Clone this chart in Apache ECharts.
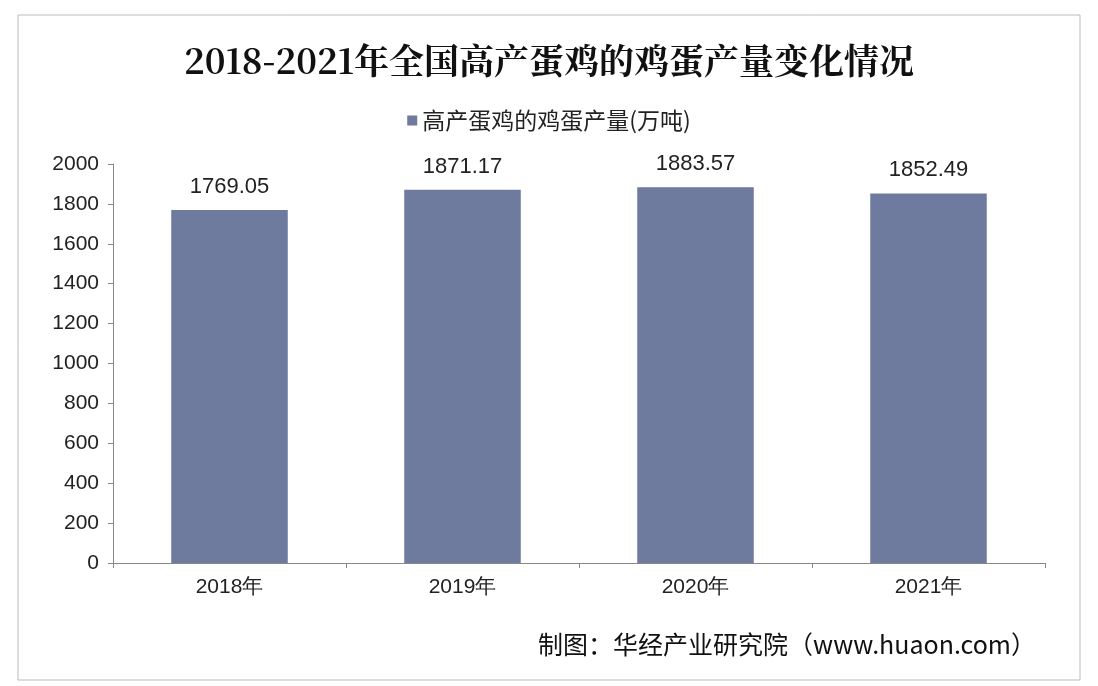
<!DOCTYPE html>
<html><head><meta charset="utf-8">
<script src="https://cdn.jsdelivr.net/npm/echarts@6/dist/echarts.min.js"></script>
<style>html,body{margin:0;background:#fff}#c{width:1098px;height:686px}</style>
</head><body><div id="c"></div>
<script>
const years = ['2018年', '2019年', '2020年', '2021年'];
const output = [1769.05, 1871.17, 1883.57, 1852.49];
const seriesName = '高产蛋鸡的鸡蛋产量(万吨)';

const chart = echarts.init(document.getElementById('c'));
chart.setOption({
  backgroundColor: '#fff',
  title: {
    text: '2018-2021年全国高产蛋鸡的鸡蛋产量变化情况',
    left: 'center', top: 38,
    textStyle: { fontFamily: 'Noto Serif CJK SC, serif', fontWeight: 'bold', fontSize: 35, color: '#111' }
  },
  legend: {
    top: 104, left: 'center', itemWidth: 10, itemHeight: 10, icon: 'rect',
    textStyle: { fontSize: 23, color: '#222', fontFamily: 'Noto Sans CJK SC' }
  },
  graphic: [
    { type: 'rect', shape: { x: 18, y: 15, width: 1062, height: 665 }, style: { fill: 'none', stroke: '#bbb', lineWidth: 1 } },
    { type: 'text', right: 62, top: 632, style: { text: '制图：华经产业研究院（www.huaon.com）', fontSize: 25, fill: '#111', fontFamily: 'Noto Sans CJK SC' } }
  ],
  grid: { left: 113, right: 53, top: 164, bottom: 123 },
  xAxis: {
    type: 'category', data: years,
    axisLine: { lineStyle: { color: '#888' } },
    axisTick: { show: true, lineStyle: { color: '#888' } },
    axisLabel: { fontSize: 21, color: '#222', margin: 14 }
  },
  yAxis: {
    type: 'value', min: 0, max: 2000, interval: 200,
    splitLine: { show: false },
    axisLine: { show: true, lineStyle: { color: '#888' } },
    axisTick: { show: true, lineStyle: { color: '#888' } },
    axisLabel: { fontSize: 21, color: '#222', margin: 14, formatter: v => String(v) }
  },
  series: [{
    name: seriesName, type: 'bar', data: output, barWidth: '50%',
    itemStyle: { color: '#6e7a9e' },
    label: { show: true, position: 'top', distance: 12, fontSize: 22, color: '#222', formatter: p => p.value.toFixed(2) }
  }]
});
</script></body></html>
